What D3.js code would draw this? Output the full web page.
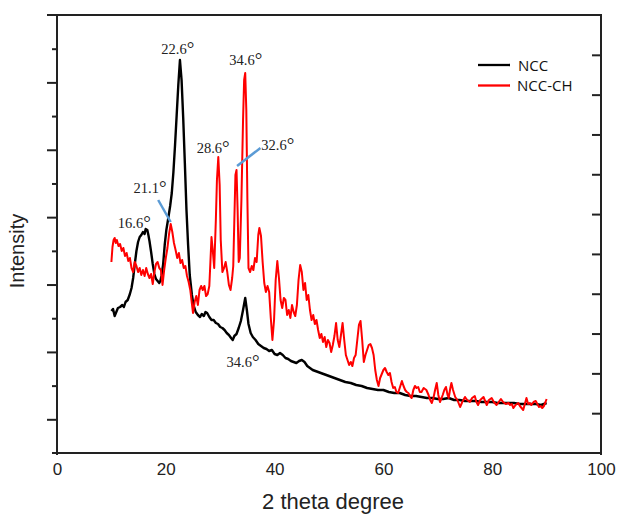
<!DOCTYPE html>
<html><head><meta charset="utf-8">
<script src="https://cdn.jsdelivr.net/npm/d3@7"></script>
<style>body{margin:0;background:#fff}svg{display:block}</style>
</head><body>
<div id="chart"></div>
<script>
// ---------- data ----------
const nccAngle = [10.0,10.3,10.6,10.9,11.2,11.6,12.0,12.3,12.6,13.0,13.4,13.7,14.0,14.3,14.6,14.9,15.2,15.5,15.8,16.1,16.3,16.6,16.8,17.0,17.3,17.6,17.9,18.2,18.5,18.8,19.0,19.2,19.5,19.8,20.1,20.4,20.8,21.1,21.4,21.7,22.0,22.3,22.6,22.9,23.2,23.5,23.8,24.1,24.4,24.8,25.1,25.5,25.9,26.3,26.6,27.0,27.3,27.6,28.0,28.4,28.8,29.2,29.6,30.0,30.4,30.8,31.2,31.6,32.0,32.3,32.6,33.0,33.4,33.8,34.2,34.6,34.9,35.2,35.6,36.0,36.5,37.0,37.5,38.0,38.5,39.0,39.5,40.0,40.5,41.0,41.5,42.0,42.5,43.0,43.5,44.0,44.5,45.0,45.5,46.0,46.5,47.0,48,49,50,51,52,53,54,55,56,57,58,59,60,61,62,63,64,65,66,67,68,69,70,71,72,73,74,75,76,77,78,79,80,81,82,83,84,85,86,87,88,89,90];
const nccIntensity = [142,144,137,141,145,146,148,146,151,153,159,165,175,189,202,211,216,218,221,219,224,223,218,212,201,189,179,174,172,170,172,177,188,208,223,233,247,260,281,308,338,368,393,373,335,290,243,208,178,158,148,141,138,136,139,137,141,140,136,133,133,130,129,126,125,123,120,118,115,113,117,119,125,132,143,155,143,129,120,116,113,109,107,105,104,102,103,99,98,100,98,95,94,92,91,90,92,93,91,87,85,83,81,79,77,75,73,71,70,68,67,65,64,63,63,61,60,60,58,57,57,56,55,55,54,54,55,53,53,52,52,52,51,51,51,50,50,50,50,49,49,49,49,48,50];

const chAngle = [10.0,10.2,10.4,10.6,10.8,11.0,11.3,11.6,11.9,12.2,12.5,12.8,13.1,13.4,13.7,14.0,14.3,14.6,14.9,15.2,15.5,15.8,16.1,16.4,16.7,17.0,17.3,17.6,17.9,18.2,18.5,18.8,19.1,19.4,19.7,20.0,20.3,20.6,20.9,21.2,21.5,21.8,22.1,22.4,22.7,23.0,23.3,23.6,23.9,24.2,24.5,24.8,25.0,25.3,25.6,25.9,26.2,26.5,26.8,27.1,27.4,27.7,28.0,28.2,28.4,28.6,28.9,29.2,29.4,29.65,29.9,30.1,30.4,30.7,31.0,31.3,31.6,31.9,32.2,32.4,32.6,32.8,33.0,33.2,33.4,33.6,33.9,34.2,34.4,34.6,34.8,35.0,35.2,35.5,35.8,36.1,36.4,36.7,37.0,37.2,37.5,37.8,38.1,38.4,38.7,39.0,39.3,39.6,39.9,40.2,40.5,40.8,41.1,41.4,41.7,42.0,42.3,42.6,42.9,43.2,43.5,43.8,44.1,44.4,44.7,45.0,45.3,45.6,45.9,46.2,46.5,46.8,47.1,47.4,47.7,48.0,48.3,48.6,48.9,49.2,49.5,49.8,50.1,50.4,50.7,51.0,51.3,51.6,51.9,52.2,52.5,52.8,53.1,53.4,53.7,54.0,54.3,54.6,54.9,55.2,55.5,55.8,56.1,56.4,56.7,57.0,57.3,57.6,57.9,58.2,58.5,58.8,59.1,59.4,59.7,60.0,60.3,60.6,60.9,61.2,61.5,61.8,62.1,62.4,62.7,63.0,63.4,63.7,64.0,64.3,64.6,64.9,65.2,65.5,65.8,66.1,66.4,66.7,67.0,67.4,67.9,68.3,68.6,68.9,69.2,69.5,69.8,70.1,70.4,70.7,70.9,71.2,71.5,71.8,72.0,72.3,72.5,72.8,73.2,73.6,74.1,74.5,75.0,75.4,75.9,76.3,76.8,77.1,77.4,77.8,78.4,78.7,79.0,79.4,79.9,80.3,80.8,81.2,81.6,82.0,82.5,83.0,83.3,83.6,83.9,84.3,84.8,85.1,85.4,85.7,86.0,86.3,86.6,86.9,87.2,87.6,88.0,88.3,88.6,88.9,89.2,89.5,89.8,90.0];
const chIntensity = [191,206,213,215,210,213,207,209,202,205,197,200,192,195,185,181,191,187,181,185,178,183,177,185,179,175,179,169,181,189,191,185,183,168,183,195,205,219,229,221,210,203,195,200,190,193,185,187,177,171,163,149,140,151,157,148,163,167,163,167,157,159,167,191,216,205,185,233,273,296,268,213,181,185,191,181,168,163,175,187,233,278,283,243,191,195,253,333,373,380,343,253,185,181,187,183,195,191,218,225,217,191,170,161,167,161,135,113,133,173,192,175,153,145,155,153,138,143,135,148,141,137,148,173,188,181,163,170,153,158,143,133,138,129,133,123,115,119,111,116,106,113,110,101,108,117,130,113,106,118,130,113,98,93,88,91,87,95,98,113,128,132,113,91,98,103,108,109,105,98,83,73,67,75,79,83,85,81,78,80,71,65,66,61,60,65,72,67,63,61,60,57,55,63,67,65,66,61,61,65,63,58,53,50,55,63,70,58,51,55,58,63,66,58,55,65,70,63,56,53,46,51,56,53,51,55,57,51,48,53,56,52,48,53,55,51,48,51,54,51,49,50,48,49,45,48,50,47,45,43,49,55,49,50,48,51,52,49,46,47,45,47,51,54];

const seriesNames = ["NCC", "NCC-CH"];
const seriesColors = ["#000000", "#ff0000"];
const xTickValues = [0, 20, 40, 60, 80, 100];

const peakLabels = ["22.6", "34.6", "28.6", "32.6", "21.1", "16.6", "34.6"];
const peakLabelAngle = [22.2, 34.7, 28.7, 40.6, 17.1, 14.2, 34.2];
const peakLabelIntensity = [399, 388, 300, 303, 260, 225, 86];

const leaderFromAngle = [18.6, 33.1];
const leaderFromIntensity = [253, 287];
const leaderToAngle = [20.9, 37.4];
const leaderToIntensity = [231, 305];

// ---------- chart ----------
const W = 617, H = 515;
const L = 57, R = 601, T = 15, B = 453;
const svg = d3.select("#chart").append("svg").attr("width", W).attr("height", H);

const x = d3.scaleLinear().domain([0, 100]).range([L, R]);
const y = d3.scaleLinear().domain([0, 438]).range([B, T]);
const yRight = d3.scaleLinear().domain([0, 11]).range([B, T]);

const axisColor = "#222";

// left axis ticks (alternating major/minor)
const leftTicks = d3.range(0, 14).map(i => i * 438 / 13);
const gl = svg.append("g").attr("transform", `translate(${L},0)`)
  .call(d3.axisLeft(y).tickValues(leftTicks).tickFormat("").tickSizeOuter(0).tickSize(5));
gl.selectAll(".tick line").attr("x2", (d, i) => (i % 2 === 0 ? -5 : -10))
  .attr("stroke", axisColor).attr("stroke-width", 2);
gl.select(".domain").remove();
gl.selectAll(".tick").filter((d, i) => i === 0 || i === 13).remove();

// right axis inward ticks
const gr = svg.append("g").attr("transform", `translate(${R},0)`)
  .call(d3.axisRight(yRight).tickValues(d3.range(1, 11)).tickFormat("").tickSize(-9));
gr.selectAll(".tick line").attr("stroke", axisColor).attr("stroke-width", 2);
gr.select(".domain").remove();

// bottom axis labels
const gb = svg.append("g").attr("transform", `translate(0,${B})`)
  .call(d3.axisBottom(x).tickValues(xTickValues).tickSize(0).tickPadding(10).tickFormat(d3.format("d")));
gb.select(".domain").remove();
gb.selectAll("text").attr("font-family", "Liberation Sans, Arial, sans-serif")
  .attr("font-size", 17).attr("fill", "#222");

// frame
const frame = svg.append("g").attr("stroke", axisColor).attr("stroke-width", 2).attr("fill", "none");
frame.append("line").attr("x1", L - 10).attr("x2", R).attr("y1", T).attr("y2", T);
frame.append("line").attr("x1", L - 5).attr("x2", R + 1).attr("y1", B).attr("y2", B);
frame.append("line").attr("x1", L).attr("x2", L).attr("y1", T).attr("y2", B + 2);
frame.append("line").attr("x1", R).attr("x2", R).attr("y1", T - 1).attr("y2", B + 2);

// curves
const line = d3.line().x(d => x(d[0])).y(d => y(d[1]));
const nccData = nccAngle.map((a, i) => [a, nccIntensity[i]]);
const chData = chAngle.map((a, i) => [a, chIntensity[i]]);
svg.append("path").datum(nccData).attr("d", line).attr("fill", "none")
  .attr("stroke", seriesColors[0]).attr("stroke-width", 2.4).attr("stroke-linejoin", "round");
svg.append("path").datum(chData).attr("d", line).attr("fill", "none")
  .attr("stroke", seriesColors[1]).attr("stroke-width", 2).attr("stroke-linejoin", "round");

// leader lines
leaderFromAngle.forEach((a, i) => {
  svg.append("line")
    .attr("x1", x(a)).attr("y1", y(leaderFromIntensity[i]))
    .attr("x2", x(leaderToAngle[i])).attr("y2", y(leaderToIntensity[i]))
    .attr("stroke", "#5b9bd5").attr("stroke-width", 2.5);
});

// peak labels
const pl = svg.append("g").selectAll("text").data(peakLabels).join("text")
  .attr("x", (d, i) => x(peakLabelAngle[i]))
  .attr("y", (d, i) => y(peakLabelIntensity[i]))
  .attr("text-anchor", "middle")
  .attr("font-family", "Liberation Serif, Times New Roman, serif")
  .attr("font-size", 14.5).attr("fill", "#222");
pl.append("tspan").text(d => d);
pl.append("tspan").attr("font-size", 19).attr("dy", 1).text("°");

// legend
const lg = svg.append("g");
seriesNames.forEach((n, i) => {
  const yy = 65 + i * 20.5;
  lg.append("line").attr("x1", 478).attr("x2", 510).attr("y1", yy).attr("y2", yy)
    .attr("stroke", seriesColors[i]).attr("stroke-width", 2.3);
  lg.append("text").attr("x", i === 0 ? 518 : 517).attr("y", yy + 5.5)
    .attr("font-family", "Open Sans, sans-serif").attr("font-size", 15)
    .attr("fill", "#111").text(n);
});

// axis titles
svg.append("text").attr("x", 333).attr("y", 509).attr("text-anchor", "middle")
  .attr("font-family", "Liberation Sans, Arial, sans-serif").attr("font-size", 22)
  .attr("fill", "#222").text("2 theta degree");
svg.append("text").attr("transform", "translate(24,251) rotate(-90)")
  .attr("text-anchor", "middle")
  .attr("font-family", "Liberation Sans, Arial, sans-serif").attr("font-size", 20)
  .attr("fill", "#222").text("Intensity");
</script>
</body></html>
